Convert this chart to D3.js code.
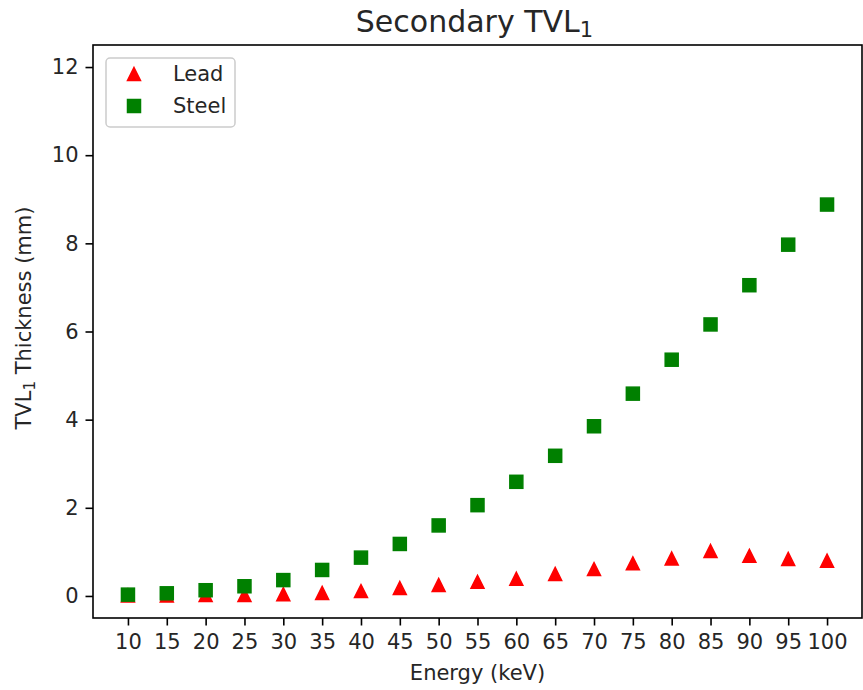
<!DOCTYPE html>
<html>
<head>
<meta charset="utf-8">
<script src="https://cdn.jsdelivr.net/npm/d3@7"></script>
<style>
  html, body { margin: 0; padding: 0; background: #fff; }
  svg { display: block; font-family: "DejaVu Sans", sans-serif; }
</style>
</head>
<body>
<svg id="chart" width="863" height="690"></svg>
<script>
// Energies (keV) and tenth-value-layer thicknesses (mm)
const energies = [10, 15, 20, 25, 30, 35, 40, 45, 50, 55, 60, 65, 70, 75, 80, 85, 90, 95, 100];
const leadTVL  = [0.01, 0.01, 0.02, 0.02, 0.04, 0.07, 0.11, 0.18, 0.25, 0.32, 0.39, 0.50, 0.61, 0.74, 0.85, 1.02, 0.91, 0.84, 0.80];
const steelTVL = [0.03, 0.06, 0.13, 0.22, 0.36, 0.59, 0.87, 1.18, 1.60, 2.06, 2.59, 3.18, 3.85, 4.59, 5.36, 6.16, 7.05, 7.97, 8.88];
const yTicks = [0, 2, 4, 6, 8, 10, 12];

const svg = d3.select("#chart");
const m = { left: 93, right: 862, top: 45, bottom: 618 };

const x = d3.scaleLinear().domain([5.5, 104.5]).range([m.left, m.right]);
const y = d3.scaleLinear().domain([-0.5, 12.5]).range([m.bottom, m.top]);

const fontSize = 21;
const ink = "#262626";

// x axis
const xAxis = svg.append("g")
  .attr("transform", `translate(0,${m.bottom})`)
  .call(d3.axisBottom(x).tickValues(energies).tickSize(7.5).tickPadding(9));
// y axis
const yAxis = svg.append("g")
  .attr("transform", `translate(${m.left},0)`)
  .call(d3.axisLeft(y).tickValues(yTicks).tickSize(7.5).tickPadding(7));

[xAxis, yAxis].forEach(g => {
  g.select(".domain").remove();
  g.selectAll(".tick line").attr("stroke", "#000").attr("stroke-width", 1.6);
  g.selectAll(".tick text")
    .attr("fill", ink)
    .attr("font-size", fontSize)
    .attr("font-family", "DejaVu Sans");
});

// frame
svg.append("rect")
  .attr("x", m.left).attr("y", m.top)
  .attr("width", m.right - m.left).attr("height", m.bottom - m.top)
  .attr("fill", "none").attr("stroke", "#000").attr("stroke-width", 1.6);

// markers
function triPath(s) {
  const h = s / 2;
  return `M0,${-h}L${h},${h}L${-h},${h}Z`;
}
const mSize = 13;

svg.append("g").selectAll("path")
  .data(energies.map((e, i) => [e, leadTVL[i]]))
  .join("path")
  .attr("transform", d => `translate(${x(d[0])},${y(d[1])})`)
  .attr("d", triPath(mSize))
  .attr("fill", "#ff0000")
  .attr("stroke", "#ff0000")
  .attr("stroke-width", 1.5)
  .attr("stroke-linejoin", "miter");

svg.append("g").selectAll("rect")
  .data(energies.map((e, i) => [e, steelTVL[i]]))
  .join("rect")
  .attr("x", d => x(d[0]) - mSize / 2)
  .attr("y", d => y(d[1]) - mSize / 2)
  .attr("width", mSize).attr("height", mSize)
  .attr("fill", "#008000")
  .attr("stroke", "#008000")
  .attr("stroke-width", 1.5);

// title
const title = svg.append("text")
  .attr("x", (m.left + m.right) / 2 - 3).attr("y", 32)
  .attr("text-anchor", "middle")
  .attr("font-size", 30).attr("fill", ink);
title.append("tspan").text("Secondary TVL");
title.append("tspan").attr("font-size", 21).attr("dy", 5).text("1");

// x label
svg.append("text")
  .attr("x", (m.left + m.right) / 2).attr("y", 680)
  .attr("text-anchor", "middle")
  .attr("font-size", fontSize).attr("fill", ink)
  .text("Energy (keV)");

// y label
const yl = svg.append("text")
  .attr("transform", `translate(31,318) rotate(-90)`)
  .attr("text-anchor", "middle")
  .attr("font-size", fontSize).attr("fill", ink);
yl.append("tspan").text("TVL");
yl.append("tspan").attr("font-size", 15).attr("dy", 4).text("1");
yl.append("tspan").attr("dy", -4).text(" Thickness (mm)");

// legend
const lg = svg.append("g");
lg.append("rect")
  .attr("x", 106).attr("y", 58).attr("width", 129).attr("height", 69)
  .attr("rx", 4)
  .attr("fill", "#fff").attr("fill-opacity", 0.8)
  .attr("stroke", "#cccccc").attr("stroke-width", 1.5);
const legendItems = [
  { name: "Lead", color: "#ff0000", shape: "tri" },
  { name: "Steel", color: "#008000", shape: "sq" }
];
legendItems.forEach((it, i) => {
  const cy = 74 + i * 32;
  if (it.shape === "tri") {
    lg.append("path").attr("transform", `translate(134,${cy})`)
      .attr("d", triPath(mSize))
      .attr("fill", it.color).attr("stroke", it.color).attr("stroke-width", 1.5);
  } else {
    lg.append("rect").attr("x", 134 - mSize / 2).attr("y", cy - mSize / 2)
      .attr("width", mSize).attr("height", mSize)
      .attr("fill", it.color).attr("stroke", it.color).attr("stroke-width", 1.5);
  }
  lg.append("text").attr("x", 173).attr("y", cy + 7)
    .attr("font-size", fontSize).attr("fill", ink).text(it.name);
});
</script>
</body>
</html>
